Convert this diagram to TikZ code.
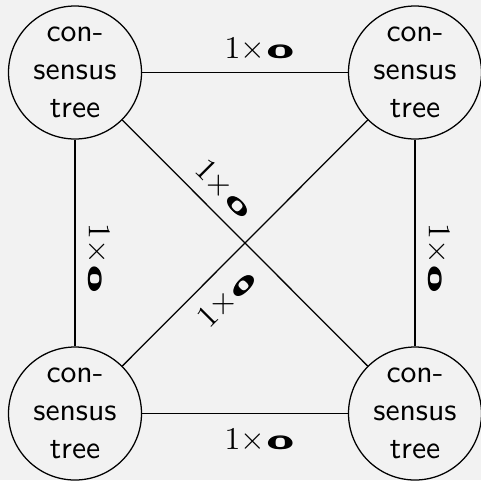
\documentclass[tikz,border=0pt]{standalone}
\usepackage{amsmath}
\usepackage{graphicx}
\definecolor{bgcol}{HTML}{F2F2F2}
\newcommand\olab{$1{\times}\mskip2mu\scalebox{1.4}[0.88]{$\pmb{\mathbf{o}}$}$}
\begin{document}
\begin{tikzpicture}[x=0.3155pt,y=-0.3155pt,
  tree/.style={draw,circle,inner sep=0pt,minimum size=41.96pt,align=center,font=\sffamily},
  lbl/.style={inner sep=3.33pt}]
\fill[bgcol] (0,0) rectangle (481,480);
\useasboundingbox (0,0) rectangle (481,480);
\node[tree] (tl) at (75,72.5) {con-\\sensus\\tree};
\node[tree] (tr) at (415,72.5) {con-\\sensus\\tree};
\node[tree] (bl) at (75,413.5) {con-\\sensus\\tree};
\node[tree] (br) at (415,413.5) {con-\\sensus\\tree};
\draw (tl) -- node[lbl,above,pos=0.57] {\olab} (tr);
\draw (bl) -- node[lbl,below=1.4pt,pos=0.57] {\olab} (br);
\draw (tl) -- node[lbl,above,sloped,pos=0.575] {\olab} (bl);
\draw (tr) -- node[lbl,above,sloped,pos=0.575] {\olab} (br);
\draw (tl) -- node[lbl,above,sloped,pos=0.35] {\olab} (br);
\draw (bl) -- node[lbl,below=1.4pt,sloped,pos=0.35] {\olab} (tr);
\end{tikzpicture}
\end{document}
